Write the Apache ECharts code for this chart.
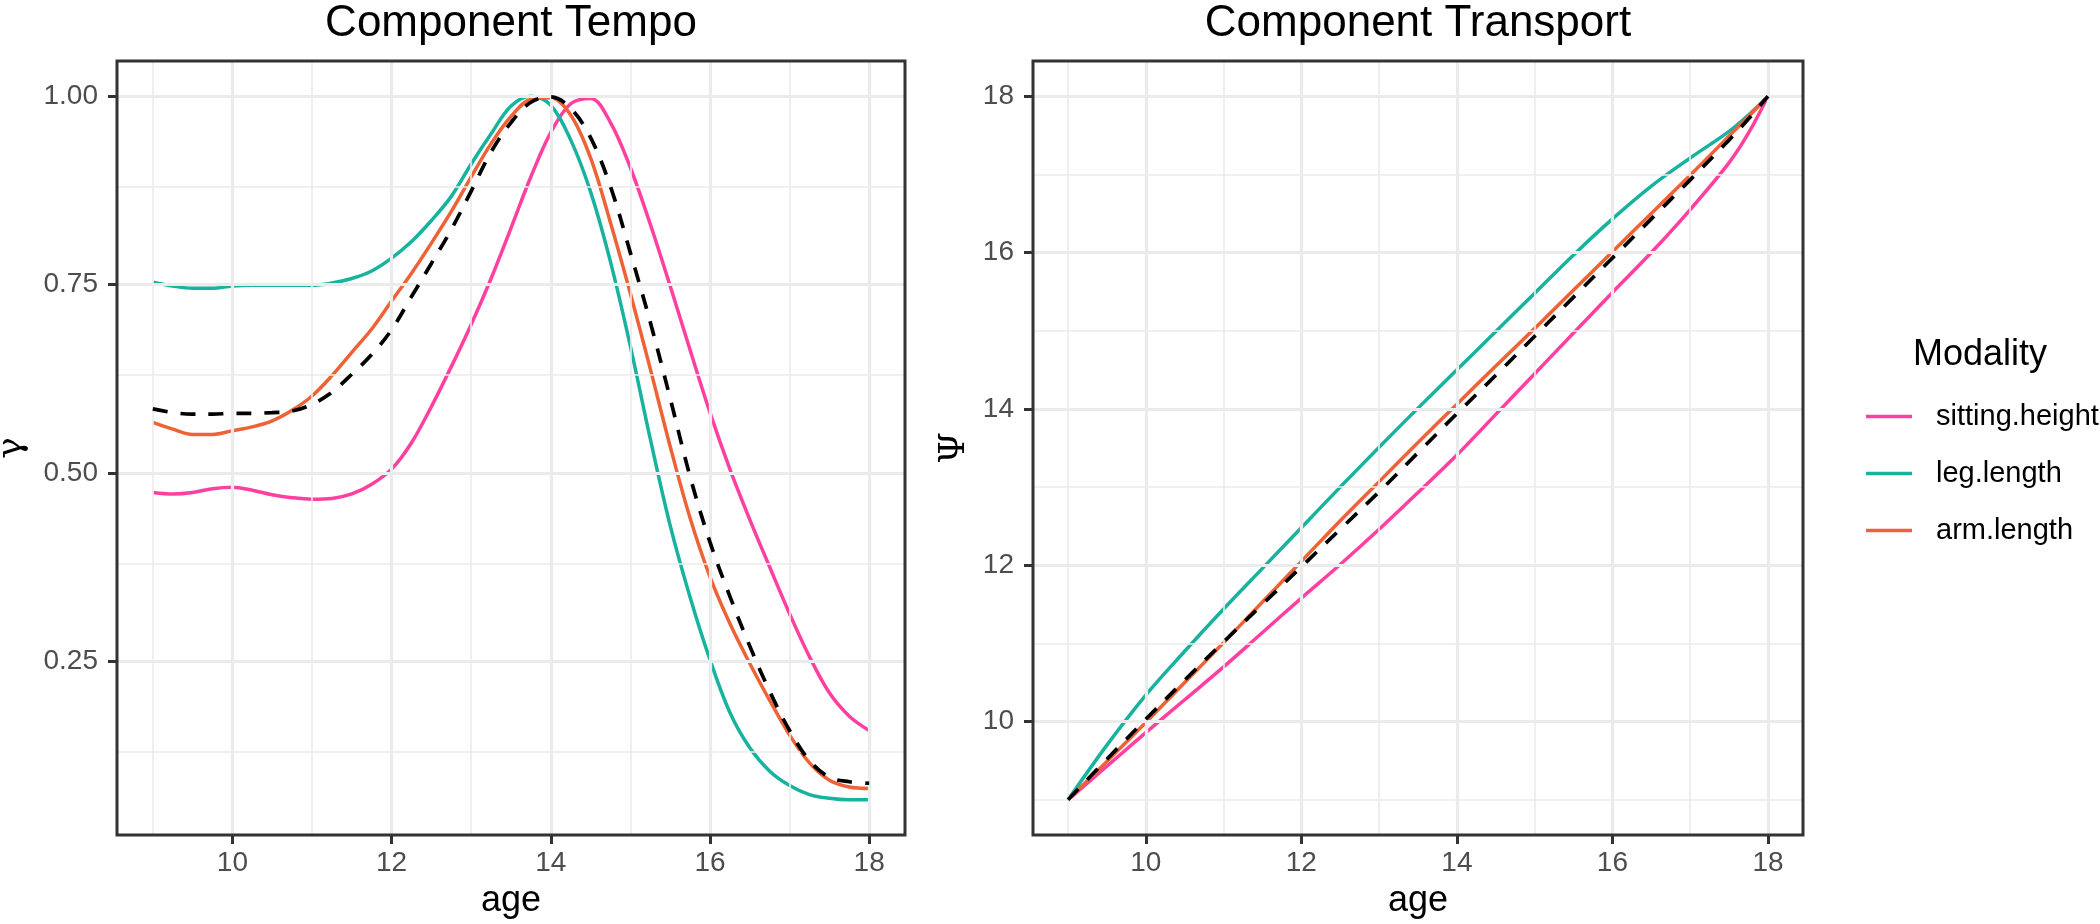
<!DOCTYPE html>
<html><head><meta charset="utf-8">
<script src="https://cdn.jsdelivr.net/npm/echarts@6/dist/echarts.min.js"></script>
<style>html,body{margin:0;padding:0;background:#fff}#c{width:2100px;height:924px}</style>
</head><body><div id="c"></div>
<script>
// ---------- data ----------
const ageTempo = [9,9.25,9.5,9.75,10,10.25,10.5,10.75,11,11.25,11.5,11.75,12,12.25,12.5,12.75,13,13.25,13.5,13.75,14,14.25,14.5,14.75,15,15.25,15.5,15.75,16,16.25,16.5,16.75,17,17.25,17.5,17.75,18];
const tempoSitting = [0.474,0.472,0.474,0.479,0.481,0.477,0.471,0.467,0.465,0.466,0.472,0.485,0.505,0.540,0.588,0.641,0.697,0.758,0.825,0.893,0.952,0.990,0.997,0.965,0.905,0.830,0.748,0.663,0.580,0.505,0.438,0.375,0.313,0.256,0.208,0.177,0.158];
const tempoLeg = [0.753,0.748,0.745,0.745,0.748,0.749,0.749,0.749,0.749,0.752,0.758,0.768,0.785,0.807,0.835,0.867,0.910,0.950,0.987,1.000,0.988,0.942,0.873,0.780,0.668,0.545,0.430,0.335,0.252,0.182,0.135,0.104,0.085,0.073,0.068,0.066,0.066];
const tempoArm = [0.567,0.558,0.551,0.551,0.556,0.561,0.569,0.583,0.602,0.629,0.660,0.691,0.728,0.765,0.805,0.847,0.893,0.937,0.973,0.996,0.998,0.975,0.918,0.832,0.738,0.638,0.535,0.440,0.362,0.300,0.247,0.198,0.152,0.115,0.092,0.083,0.081];
const tempoRef = [0.585,0.580,0.578,0.578,0.579,0.579,0.580,0.582,0.591,0.607,0.631,0.657,0.690,0.734,0.778,0.823,0.874,0.926,0.965,0.992,0.999,0.984,0.945,0.880,0.792,0.700,0.599,0.495,0.408,0.336,0.270,0.210,0.158,0.118,0.096,0.090,0.088];

const ageTransport = [9,9.5,10,10.5,11,11.5,12,12.5,13,13.5,14,14.5,15,15.5,16,16.5,17,17.5,17.75,18];
const transSitting = [9.0,9.43,9.86,10.28,10.70,11.14,11.58,12.01,12.46,12.93,13.41,13.93,14.45,14.97,15.49,16.00,16.55,17.15,17.53,18.0];
const transLeg = [9.0,9.70,10.34,10.90,11.44,11.96,12.48,13.00,13.51,14.01,14.50,14.99,15.48,15.97,16.43,16.85,17.21,17.55,17.76,18.0];
const transArm = [9.0,9.49,9.99,10.50,11.01,11.53,12.05,12.57,13.07,13.57,14.06,14.55,15.03,15.52,16.01,16.50,16.99,17.49,17.74,18.0];
const transRef = [9.0,9.52,10.03,10.53,11.02,11.50,11.98,12.46,12.94,13.44,13.94,14.43,14.93,15.43,15.93,16.43,16.93,17.44,17.71,18.0];

const seriesNames = ['sitting.height','leg.length','arm.length'];
const xTicks = [10,12,14,16,18];
const xMinor = [9,11,13,15,17];
const tempoYTicks = [0.25,0.5,0.75,1.0];
const tempoYMinor = [0.125,0.375,0.625,0.875];
const transYTicks = [10,12,14,16,18];
const transYMinor = [9,11,13,15,17];

// ---------- styling ----------
const FONT = '"Liberation Sans", Arial, Helvetica, sans-serif';
const COLORS = {'sitting.height':'#FF40A0','leg.length':'#18B39E','arm.length':'#EE6236'};
const LW = 3.5;
const pairs = (xs, ys) => xs.map((x,i)=>[x, ys[i]]);
const LABEL_RICH = {t:{fontFamily:FONT, fontSize:28, color:'#4D4D4D', lineHeight:30}};

function gridLines(xi, majorsX, minorsX, majorsY, minorsY){
  const d = [];
  minorsX.forEach(v=>d.push({xAxis:v, lineStyle:{color:'#EBEBEB', width:1.6, type:'solid'}}));
  minorsY.forEach(v=>d.push({yAxis:v, lineStyle:{color:'#EBEBEB', width:1.6, type:'solid'}}));
  majorsX.forEach(v=>d.push({xAxis:v, lineStyle:{color:'#EBEBEB', width:3.2, type:'solid'}}));
  majorsY.forEach(v=>d.push({yAxis:v, lineStyle:{color:'#EBEBEB', width:3.2, type:'solid'}}));
  return {
    type:'line', name:'_grid'+xi, xAxisIndex:xi, yAxisIndex:xi, data:[], z:1, silent:true,
    markLine:{silent:true, symbol:['none','none'], animation:false, label:{show:false}, emphasis:{disabled:true}, data:d}
  };
}
function dataSeries(xi, name, xs, ys, dashed){
  return {
    type:'line', name:name, xAxisIndex:xi, yAxisIndex:xi, data:pairs(xs, ys),
    symbol:'none', showSymbol:false, smooth:0.35, z:dashed?5:4, animation:false,
    lineStyle:{color: dashed?'#000000':COLORS[name], width: dashed?3.7:LW, type: dashed?[15,13]:'solid'},
    itemStyle:{color: dashed?'#000000':COLORS[name]},
    emphasis:{disabled:true}
  };
}
function xAxisCfg(gi){
  return {
    type:'value', gridIndex:gi, min:8.55, max:18.45,
    name:'age', nameLocation:'middle', nameGap:48,
    nameTextStyle:{fontFamily:FONT, fontSize:36, color:'#000'},
    axisLine:{show:false},
    axisTick:{show:true, length:9, inside:false, customValues:xTicks, lineStyle:{color:'#333333', width:3}},
    axisLabel:{show:true, customValues:xTicks, margin:13, fontFamily:FONT, fontSize:28, color:'#4D4D4D',
      formatter:v=>'{t|'+v+'}', rich:LABEL_RICH},
    splitLine:{show:false}
  };
}
function yAxisCfg(gi, min, max, ticks, name, gap, fmt){
  return {
    type:'value', gridIndex:gi, min:min, max:max,
    name:name, nameLocation:'middle', nameGap:gap,
    nameTextStyle:{fontFamily:'"DejaVu Serif", "Liberation Serif", serif', fontSize:36, color:'#000'},
    axisLine:{show:false},
    axisTick:{show:true, length:9, customValues:ticks, lineStyle:{color:'#333333', width:3}},
    axisLabel:{show:true, customValues:ticks, margin:19, fontFamily:FONT, fontSize:28, color:'#4D4D4D',
      formatter:v=>'{t|'+fmt(v)+'}', rich:LABEL_RICH},
    splitLine:{show:false}
  };
}

const option = {
  backgroundColor:'#ffffff',
  animation:false,
  title:[
    {text:'Component Tempo', left:511, top:2, textAlign:'center', padding:0, textStyle:{fontFamily:FONT, fontSize:44, fontWeight:'normal', color:'#000'}},
    {text:'Component Transport', left:1418, top:2, textAlign:'center', padding:0, textStyle:{fontFamily:FONT, fontSize:44, fontWeight:'normal', color:'#000'}},
    {text:'Modality', left:1913, top:337, padding:0, textStyle:{fontFamily:FONT, fontSize:36, fontWeight:'normal', color:'#000'}}
  ],
  legend:{
    data:seriesNames, orient:'vertical', left:1866, top:402, padding:0,
    icon:'path://M0,0H46V3.5H0Z', symbolKeepAspect:true,
    itemWidth:46, itemHeight:29, itemGap:28, selectedMode:false,
    textStyle:{fontFamily:FONT, fontSize:29, color:'#000', padding:[0,0,0,19], lineHeight:29}
  },
  grid:[
    {left:117, top:61, width:788, height:774, show:true, borderColor:'#333333', borderWidth:3, backgroundColor:'transparent', z:10, containLabel:false, outerBoundsMode:'none'},
    {left:1033, top:61, width:770, height:774, show:true, borderColor:'#333333', borderWidth:3, backgroundColor:'transparent', z:10, containLabel:false, outerBoundsMode:'none'}
  ],
  xAxis:[xAxisCfg(0), xAxisCfg(1)],
  yAxis:[
    yAxisCfg(0, 0.0193, 1.0467, tempoYTicks, 'γ', 87, v=>v.toFixed(2)),
    yAxisCfg(1, 8.55, 18.45, transYTicks, 'Ψ', 60, v=>String(v))
  ],
  series:[
    gridLines(0, xTicks, xMinor, tempoYTicks, tempoYMinor),
    gridLines(1, xTicks, xMinor, transYTicks, transYMinor),
    dataSeries(0,'sitting.height', ageTempo, tempoSitting),
    dataSeries(0,'leg.length', ageTempo, tempoLeg),
    dataSeries(0,'arm.length', ageTempo, tempoArm),
    dataSeries(0,'reference', ageTempo, tempoRef, true),
    dataSeries(1,'sitting.height', ageTransport, transSitting),
    dataSeries(1,'leg.length', ageTransport, transLeg),
    dataSeries(1,'arm.length', ageTransport, transArm),
    dataSeries(1,'reference', ageTransport, transRef, true)
  ]
};
const chart = echarts.init(document.getElementById('c'), null, {renderer:'canvas'});
chart.setOption(option);
</script>
</body></html>
